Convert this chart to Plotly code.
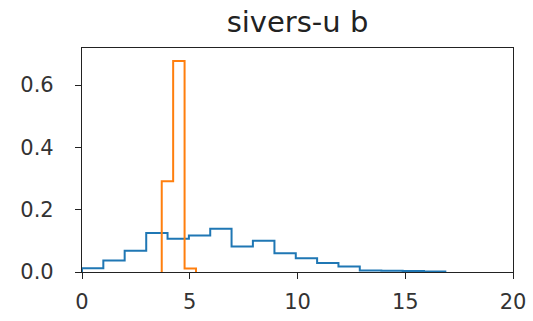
import plotly.graph_objects as go

# Blue histogram (density) — bin edges and heights
blue_edges = [0.0, 0.99, 1.98, 2.98, 3.97, 4.96, 5.95, 6.94, 7.93, 8.93,
              9.92, 10.91, 11.90, 12.89, 13.89, 14.88, 15.87, 16.86]
blue_heights = [0.012, 0.037, 0.068, 0.125, 0.107, 0.117, 0.139, 0.082, 0.100,
                0.060, 0.044, 0.029, 0.018, 0.005, 0.004, 0.003, 0.002]

# Orange histogram (density)
orange_edges = [3.70, 4.23, 4.76, 5.29]
orange_heights = [0.291, 0.677, 0.011]

x_ticks = [0, 5, 10, 15, 20]
y_ticks = [0.0, 0.2, 0.4, 0.6]
y_tick_labels = ["0.0", "0.2", "0.4", "0.6"]
title_text = "sivers-u b"


def step_path(edges, heights):
    xs = [edges[0]]
    ys = [0]
    for i, h in enumerate(heights):
        xs += [edges[i], edges[i + 1]]
        ys += [h, h]
    xs.append(edges[-1])
    ys.append(0)
    return xs, ys


fig = go.Figure()
bx, by = step_path(blue_edges, blue_heights)
ox, oy = step_path(orange_edges, orange_heights)
fig.add_trace(go.Scatter(x=bx, y=by, mode="lines",
                         line=dict(color="#1f77b4", width=2), showlegend=False))
fig.add_trace(go.Scatter(x=ox, y=oy, mode="lines",
                         line=dict(color="#ff7f0e", width=2), showlegend=False))

axis_common = dict(showgrid=False, zeroline=False, showline=True, mirror=True,
                   automargin=False,
                   linecolor="#222", linewidth=1.2, ticks="outside", ticklen=6,
                   tickcolor="#222", tickwidth=1.2,
                   tickfont=dict(family="DejaVu Sans", size=21, color="#333"))

fig.update_layout(
    width=533, height=321,
    margin=dict(l=82, r=20, t=48, b=49),
    paper_bgcolor="white", plot_bgcolor="white",
    title=dict(text=title_text, x=0.5, xref="paper", xanchor="center",
               y=1, yref="paper", yanchor="bottom", pad=dict(b=16),
               automargin=False,
               font=dict(family="DejaVu Sans", size=29, color="#222")),
    xaxis=dict(range=[0, 20], tickvals=x_ticks, ticklabelstandoff=5,
               **axis_common),
    yaxis=dict(range=[0, 0.719], tickvals=y_ticks, ticktext=y_tick_labels,
               ticklabelstandoff=17, **axis_common),
)

fig.write_html("out.html",
               config={"displayModeBar": False},
               post_script="document.body.style.margin='0';")
